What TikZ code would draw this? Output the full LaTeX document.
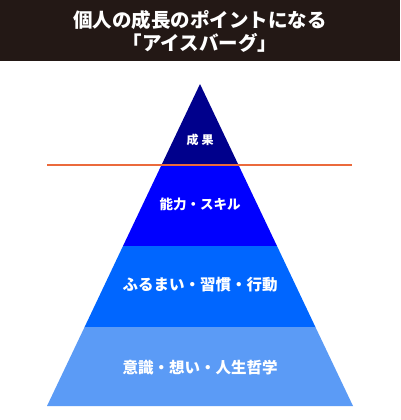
\documentclass[tikz,border=0pt]{standalone}
\usepackage{fontspec}
\newfontfamily\jp{Noto Sans CJK JP}
\definecolor{hdr}{HTML}{231815}
\definecolor{bandA}{HTML}{00008C}
\definecolor{bandB}{HTML}{0000FF}
\definecolor{bandC}{HTML}{0066FF}
\definecolor{bandD}{HTML}{5B9BF6}
\definecolor{sea}{HTML}{EB6A3C}
\begin{document}
\begin{tikzpicture}[x=1pt,y=-1pt,
  lbl/.style={text=white,font=\jp\bfseries,inner sep=0pt,anchor=center},
  ttl/.style={text=white,font=\jp\bfseries\fontsize{19.5}{23}\selectfont,align=center,inner sep=0pt}]
\useasboundingbox (0,0) rectangle (400,420);
\fill[white] (0,0) rectangle (400,420);
\fill[hdr] (0,0) rectangle (400,61);
\node[ttl] (title) at (200,31.5) {個人の成長のポイントになる\\「アイスバーグ」};
% pyramid bands
\fill[bandA] (200,84) -- (238.5,165) -- (161.5,165) -- cycle;
\fill[bandB] (161.5,165) -- (238.5,165) -- (277,246) -- (123,246) -- cycle;
\fill[bandC] (123,246) -- (277,246) -- (315.4,327) -- (84.6,327) -- cycle;
\fill[bandD] (84.6,327) -- (315.4,327) -- (353,406) -- (47,406) -- cycle;
% waterline
\coordinate (wl) at (47,164.8);
\coordinate (wr) at (352,164.8);
\draw[sea,line width=1.7pt] (wl) -- (wr);
% labels
\node[lbl,font=\jp\bfseries\fontsize{12}{14}\selectfont] (l1) at (200,140) {成\hspace{3pt}果};
\node[lbl,font=\jp\bfseries\fontsize{13.5}{16}\selectfont] (l2) at (200,204) {能力・スキル};
\node[lbl,font=\jp\bfseries\fontsize{15.5}{18}\selectfont] (l3) at (200,285) {ふるまい・習慣・行動};
\node[lbl,font=\jp\bfseries\fontsize{15.5}{18}\selectfont] (l4) at (200,368) {意識・想い・人生哲学};
\end{tikzpicture}
\end{document}
